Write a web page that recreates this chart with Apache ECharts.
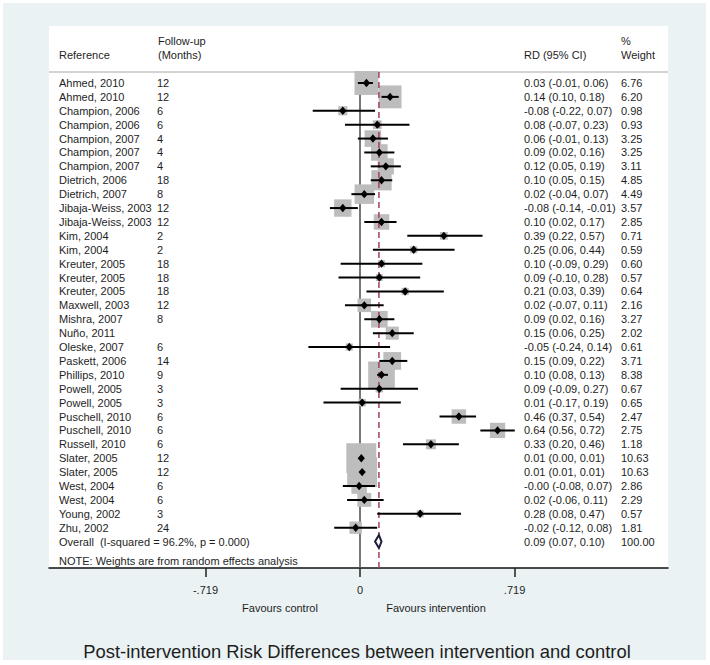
<!DOCTYPE html>
<html>
<head>
<meta charset="utf-8">
<script src="https://cdn.jsdelivr.net/npm/echarts@6/dist/echarts.min.js"></script>
<style>html,body{margin:0;padding:0;background:#fff;}#c{width:710px;height:665px;}</style>
</head>
<body>
<div id="c"></div>
<script>
// ---- data ----
const refs = ["Ahmed, 2010","Ahmed, 2010","Champion, 2006","Champion, 2006","Champion, 2007","Champion, 2007","Champion, 2007","Dietrich, 2006","Dietrich, 2007","Jibaja-Weiss, 2003","Jibaja-Weiss, 2003","Kim, 2004","Kim, 2004","Kreuter, 2005","Kreuter, 2005","Kreuter, 2005","Maxwell, 2003","Mishra, 2007","Nuño, 2011","Oleske, 2007","Paskett, 2006","Phillips, 2010","Powell, 2005","Powell, 2005","Puschell, 2010","Puschell, 2010","Russell, 2010","Slater, 2005","Slater, 2005","West, 2004","West, 2004","Young, 2002","Zhu, 2002"];
const followUp = ["12","12","6","6","4","4","4","18","8","12","12","2","2","18","18","18","12","8","","6","14","9","3","3","6","6","6","12","12","6","6","3","24"];
const rd = [0.03,0.14,-0.08,0.08,0.06,0.09,0.12,0.10,0.02,-0.08,0.10,0.39,0.25,0.10,0.09,0.21,0.02,0.09,0.15,-0.05,0.15,0.10,0.09,0.01,0.46,0.64,0.33,0.006,0.01,-0.004,0.02,0.28,-0.02];
const ciLow = [-0.01,0.10,-0.22,-0.07,-0.01,0.02,0.05,0.05,-0.04,-0.14,0.02,0.22,0.06,-0.09,-0.10,0.03,-0.07,0.02,0.06,-0.24,0.09,0.08,-0.09,-0.17,0.37,0.56,0.20,0.002,0.01,-0.08,-0.06,0.08,-0.12];
const ciHigh = [0.06,0.18,0.07,0.23,0.13,0.16,0.19,0.15,0.07,-0.01,0.17,0.57,0.44,0.29,0.28,0.39,0.11,0.16,0.25,0.14,0.22,0.13,0.27,0.19,0.54,0.72,0.46,0.008,0.01,0.07,0.11,0.47,0.08];
const weights = [6.76,6.20,0.98,0.93,3.25,3.25,3.11,4.85,4.49,3.57,2.85,0.71,0.59,0.60,0.57,0.64,2.16,3.27,2.02,0.61,3.71,8.38,0.67,0.65,2.47,2.75,1.18,10.63,10.63,2.86,2.29,0.57,1.81];
const overallLabel = "Overall  (I-squared = 96.2%, p = 0.000)";
const overallRd = 0.088, overallLow = 0.07, overallHigh = 0.10, overallWeight = 100.00;
const tickValues = [-0.719, 0, 0.719];
const tickLabels = ["-.719", "0", ".719"];

// ---- layout ----
const FONT = '"Liberation Sans", Arial, Helvetica, sans-serif';
const TXT = '#1e1e1e';
const fmt = v => v.toFixed(2);
const nRows = refs.length;
const overallRow = nRows;

const chart = echarts.init(document.getElementById('c'), null, {renderer: 'svg'});

const studyData = refs.map((r, i) => [rd[i], i, ciLow[i], ciHigh[i], weights[i]]);
const textData = refs.map((r, i) => [0, i]);
textData.push([0, overallRow]);

function txt(text, x, y, align, size) {
  return {type: 'text', style: {text: text, x: x, y: y, fill: TXT, font: (size || 11) + 'px ' + FONT,
    textAlign: align || 'left', align: align || 'left', textVerticalAlign: 'middle', verticalAlign: 'middle'}};
}

const option = {
  backgroundColor: '#ffffff',
  animation: false,
  grid: {left: 49, top: 26, width: 619, height: 542, containLabel: false},
  xAxis: {
    type: 'value', min: -1.447, max: 1.433, position: 'bottom',
    splitLine: {show: false},
    axisLine: {show: true, onZero: false, lineStyle: {color: '#111', width: 1.5}},
    axisTick: {show: true, customValues: tickValues, length: 9, lineStyle: {color: '#222', width: 1.5}},
    axisLabel: {show: true, customValues: tickValues, margin: 16, color: TXT, fontSize: 11, fontFamily: FONT,
      formatter: v => { const k = tickValues.findIndex(t => Math.abs(t - v) < 1e-6); return k >= 0 ? tickLabels[k] : ''; }}
  },
  yAxis: {
    type: 'value', min: -4.1, max: 34.9, inverse: true, show: false,
    splitLine: {show: false}
  },
  graphic: [
    {type: 'rect', z: -20, silent: true, shape: {x: 3, y: 3, width: 703, height: 657}, style: {fill: '#eaf2f3'}},
    {type: 'rect', z: -19, silent: true, shape: {x: 49, y: 26, width: 619, height: 542}, style: {fill: '#ffffff'}},
    {type: 'line', z: 1, shape: {x1: 49, y1: 72, x2: 668, y2: 72}, style: {stroke: '#d3d3d3', lineWidth: 2}},
    Object.assign(txt('Reference', 59, 55), {z: 10}),
    Object.assign(txt('Follow-up', 158, 41), {z: 10}),
    Object.assign(txt('(Months)', 158, 55), {z: 10}),
    Object.assign(txt('RD (95% CI)', 524, 55), {z: 10}),
    Object.assign(txt('%', 621, 41), {z: 10}),
    Object.assign(txt('Weight', 621, 55), {z: 10}),
    Object.assign(txt('NOTE: Weights are from random effects analysis', 59, 561), {z: 10}),
    Object.assign(txt('Favours control', 280, 608, 'center'), {z: 10}),
    Object.assign(txt('Favours intervention', 436, 608, 'center'), {z: 10}),
    Object.assign(txt('Post-intervention Risk Differences between intervention and control', 357, 651, 'center', 18.4), {z: 10})
  ],
  series: [
    { // zero line
      type: 'line', z: 1, silent: true, symbol: 'none', data: [[0, -0.79], [0, 34.9]],
      lineStyle: {color: '#555', width: 1.6}
    },
    { // weight boxes
      type: 'custom', z: 2, silent: true, data: studyData,
      renderItem: function (params, api) {
        const p = api.coord([api.value(0), api.value(1)]);
        const s = 9.2 * Math.sqrt(api.value(4));
        return {type: 'rect', shape: {x: p[0] - s / 2, y: p[1] - s / 2, width: s, height: s}, style: {fill: '#bdbdbd'}};
      }
    },
    { // overall effect line
      type: 'line', z: 3, silent: true, symbol: 'none', data: [[overallRd, -0.79], [overallRd, 34.9]],
      lineStyle: {color: '#a3405f', width: 1.5, type: [6, 4]}
    },
    { // CI and point estimates
      type: 'custom', z: 4, silent: true, data: studyData,
      renderItem: function (params, api) {
        const y = api.value(1);
        const p = api.coord([api.value(0), y]);
        const pl = api.coord([api.value(2), y]);
        const ph = api.coord([api.value(3), y]);
        return {type: 'group', children: [
          {type: 'line', shape: {x1: pl[0], y1: p[1], x2: ph[0], y2: p[1]}, style: {stroke: '#000', lineWidth: 2}},
          {type: 'polygon', shape: {points: [[p[0] - 3.6, p[1]], [p[0], p[1] - 4.2], [p[0] + 3.6, p[1]], [p[0], p[1] + 4.2]]}, style: {fill: '#000'}}
        ]};
      }
    },
    { // overall diamond
      type: 'custom', z: 5, silent: true, data: [[overallRd, overallRow, overallLow, overallHigh]],
      renderItem: function (params, api) {
        const y = api.value(1);
        const c = api.coord([api.value(0), y]);
        const l = api.coord([api.value(2), y]);
        const h = api.coord([api.value(3), y]);
        return {type: 'polygon', shape: {points: [[l[0], c[1]], [c[0], c[1] - 6.5], [h[0], c[1]], [c[0], c[1] + 6.5]]},
          style: {fill: '#fff', stroke: '#1c1c3c', lineWidth: 2}};
      }
    },
    { // row texts
      type: 'custom', z: 6, silent: true, data: textData,
      renderItem: function (params, api) {
        const i = api.value(1);
        const yy = api.coord([0, i])[1];
        if (i === overallRow) {
          return {type: 'group', children: [
            txt(overallLabel, 59, yy),
            txt(fmt(overallRd) + ' (' + fmt(overallLow) + ', ' + fmt(overallHigh) + ')', 524, yy),
            txt(fmt(overallWeight), 621, yy)
          ]};
        }
        return {type: 'group', children: [
          txt(refs[i], 59, yy),
          txt(followUp[i], 157, yy),
          txt(fmt(rd[i]) + ' (' + fmt(ciLow[i]) + ', ' + fmt(ciHigh[i]) + ')', 524, yy),
          txt(fmt(weights[i]), 621, yy)
        ]};
      }
    }
  ]
};
chart.setOption(option);
</script>
</body>
</html>
